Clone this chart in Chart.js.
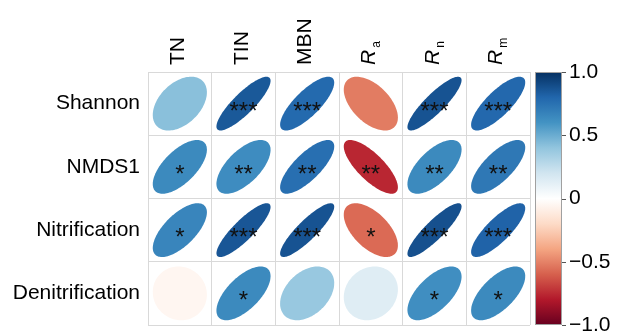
<!DOCTYPE html>
<html>
<head>
<meta charset="utf-8">
<script src="https://cdn.jsdelivr.net/npm/chart.js@4/dist/chart.umd.min.js"></script>
<style>
  html, body { margin: 0; padding: 0; background: #ffffff; }
  #wrap { width: 618px; height: 332px; }
</style>
</head>
<body>
<div id="wrap"><canvas id="chart" width="618" height="332"></canvas></div>
<script>
// Row and column variables of the correlation matrix
const rowNames = ['Shannon', 'NMDS1', 'Nitrification', 'Denitrification'];
const colNames = ['TN', 'TIN', 'MBN', 'Ra', 'Rn', 'Rm'];
// Column headers: main text and optional subscript (R_a, R_n, R_m are italic)
const colMain = ['TN', 'TIN', 'MBN', 'R', 'R', 'R'];
const colSub = ['', '', '', 'a', 'n', 'm'];

// Pearson correlations, one array per row variable
const rShannon = [0.42, 0.85, 0.78, -0.52, 0.87, 0.79];
const rNMDS1 = [0.64, 0.63, 0.76, -0.76, 0.64, 0.72];
const rNitrification = [0.66, 0.86, 0.87, -0.57, 0.88, 0.81];
const rDenitrification = [-0.05, 0.64, 0.38, 0.14, 0.62, 0.64];

// Significance marks (* p<0.05, ** p<0.01, *** p<0.001)
const sigShannon = ['', '***', '***', '', '***', '***'];
const sigNMDS1 = ['*', '**', '**', '**', '**', '**'];
const sigNitrification = ['*', '***', '***', '*', '***', '***'];
const sigDenitrification = ['', '*', '', '', '*', '*'];

// Colour bar tick values
const legendTicks = [-1, -0.5, 0, 0.5, 1];

const rValues = [rShannon, rNMDS1, rNitrification, rDenitrification];
const sigValues = [sigShannon, sigNMDS1, sigNitrification, sigDenitrification];

// Diverging red-blue palette from -1 to 1
const palette = ['#67001F', '#B2182B', '#D6604D', '#F4A582', '#FDDBC7', '#FFFFFF',
                 '#D1E5F0', '#92C5DE', '#4393C3', '#2166AC', '#053061'];

function hexToRgb(h) {
  return [parseInt(h.slice(1, 3), 16), parseInt(h.slice(3, 5), 16), parseInt(h.slice(5, 7), 16)];
}
function colorFor(r) {
  const p = Math.max(0, Math.min(1, (r + 1) / 2)) * (palette.length - 1);
  const i = Math.min(palette.length - 2, Math.floor(p));
  const f = p - i;
  const a = hexToRgb(palette[i]), b = hexToRgb(palette[i + 1]);
  const c = a.map((v, k) => Math.round(v + (b[k] - v) * f));
  return 'rgb(' + c.join(',') + ')';
}

const cells = [];
rowNames.forEach((rn, i) => {
  colNames.forEach((cn, j) => {
    cells.push({ x: cn, y: rn, r: rValues[i][j], sig: sigValues[i][j] });
  });
});

const FONT = '"Liberation Sans", Arial, Helvetica, sans-serif';

// Ellipses (shape and colour from r), significance stars, column headers and colour bar
const corrPlugin = {
  id: 'corrCells',
  afterDatasetsDraw(chart) {
    const ctx = chart.ctx;
    const xs = chart.scales.x, ys = chart.scales.y;
    const cw = xs.width / colNames.length, ch = ys.height / rowNames.length;
    const meta = chart.getDatasetMeta(0);
    const data = chart.data.datasets[0].data;
    ctx.save();
    meta.data.forEach((pt, k) => {
      const d = data[k];
      const a = Math.acos(d.r);
      const N = 120;
      ctx.beginPath();
      for (let s = 0; s <= N; s++) {
        const t = 2 * Math.PI * s / N;
        const dx = 0.85 * Math.cos(t + a / 2) / 2 * cw;
        const dy = 0.85 * Math.cos(t - a / 2) / 2 * ch;
        if (s === 0) ctx.moveTo(pt.x + dx, pt.y - dy); else ctx.lineTo(pt.x + dx, pt.y - dy);
      }
      ctx.closePath();
      ctx.fillStyle = colorFor(d.r);
      ctx.fill();
      if (d.sig) {
        ctx.fillStyle = '#111111';
        ctx.font = '24px ' + FONT;
        ctx.textAlign = 'center';
        ctx.textBaseline = 'alphabetic';
        ctx.fillText(d.sig, pt.x, pt.y + 15);
      }
    });
    ctx.restore();
  },
  afterDraw(chart) {
    const ctx = chart.ctx;
    const xs = chart.scales.x;
    // rotated column headers
    ctx.save();
    ctx.fillStyle = '#000000';
    ctx.textBaseline = 'alphabetic';
    ctx.textAlign = 'left';
    colMain.forEach((txt, j) => {
      const cx = xs.getPixelForValue(j);
      ctx.save();
      ctx.translate(cx + 4, xs.bottom - 7);
      ctx.rotate(-Math.PI / 2);
      if (colSub[j]) {
        ctx.font = 'italic 21px ' + FONT;
        ctx.fillText(txt, 0, 0);
        const w = ctx.measureText(txt).width;
        ctx.font = '12px ' + FONT;
        ctx.fillText(colSub[j], w + 2, 5);
      } else {
        ctx.font = '21px ' + FONT;
        ctx.fillText(txt, 0, 0);
      }
      ctx.restore();
    });
    ctx.restore();

    // colour bar
    const cb = chart.scales.cb;
    const yTop = cb.getPixelForValue(1), yBot = cb.getPixelForValue(-1);
    const x0 = cb.left + 5, bw = 27;
    ctx.save();
    const g = ctx.createLinearGradient(0, yBot, 0, yTop);
    palette.forEach((c, i) => g.addColorStop(i / (palette.length - 1), c));
    ctx.fillStyle = g;
    ctx.fillRect(x0, yTop, bw, yBot - yTop);
    ctx.strokeStyle = '#a0a0a0';
    ctx.lineWidth = 1;
    ctx.strokeRect(x0 + 0.5, yTop + 0.5, bw - 1, yBot - yTop - 1);
    ctx.strokeStyle = '#555555';
    legendTicks.forEach(v => {
      const y = Math.round(cb.getPixelForValue(v)) + 0.5;
      ctx.beginPath();
      ctx.moveTo(x0 + bw, y);
      ctx.lineTo(x0 + bw + 4, y);
      ctx.stroke();
    });
    ctx.restore();
  }
};

function zeroPad(scale) {
  scale.paddingTop = 0; scale.paddingBottom = 0;
  scale.paddingLeft = 0; scale.paddingRight = 0;
}

new Chart(document.getElementById('chart'), {
  type: 'scatter',
  data: {
    datasets: [{
      data: cells,
      pointRadius: 0,
      pointHoverRadius: 0
    }]
  },
  options: {
    responsive: false,
    animation: false,
    devicePixelRatio: 1,
    layout: { padding: { left: 0, right: 0, top: 0, bottom: 7 } },
    plugins: { legend: { display: false }, tooltip: { enabled: false } },
    events: [],
    scales: {
      x: {
        type: 'category',
        labels: colNames,
        position: 'top',
        offset: true,
        grid: { offset: true, color: '#d9d9d9', lineWidth: 1, drawTicks: false },
        border: { display: true, color: '#d9d9d9' },
        ticks: { display: false },
        afterFit(scale) { scale.height = 72; zeroPad(scale); }
      },
      y: {
        type: 'category',
        labels: rowNames,
        position: 'left',
        offset: true,
        grid: { offset: true, color: '#d9d9d9', lineWidth: 1, drawTicks: false },
        border: { display: true, color: '#d9d9d9' },
        ticks: { color: '#000000', font: { family: FONT, size: 21 }, padding: 8 },
        afterFit(scale) { scale.width = 148; zeroPad(scale); }
      },
      cb: {
        type: 'linear',
        position: 'right',
        min: -1,
        max: 1,
        afterBuildTicks(scale) { scale.ticks = legendTicks.map(v => ({ value: v })); },
        grid: { display: true, drawOnChartArea: false, drawTicks: false, color: 'rgba(0,0,0,0)' },
        border: { display: false },
        ticks: {
          color: '#000000',
          font: { family: FONT, size: 21 },
          padding: 39,
          callback(v) {
            if (v === 0) return '0';
            return (v < 0 ? '\u2212' : '') + Math.abs(v).toFixed(1);
          }
        },
        afterFit(scale) { scale.width = 88; zeroPad(scale); }
      }
    }
  },
  plugins: [corrPlugin]
});
</script>
</body>
</html>
